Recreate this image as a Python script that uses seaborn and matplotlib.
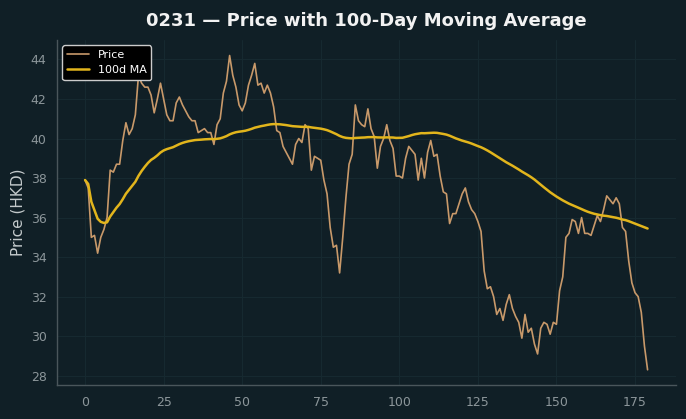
#!/usr/bin/env python3

import matplotlib
matplotlib.use("Agg")
import matplotlib.pyplot as plt
import numpy as np
import pandas as pd
import seaborn as sns

FIGSIZE = (6.86, 4.19)
BG = "#101f26"
PRICE_COLOR = "#c8996a"
MA_COLOR = "#e2b51c"

# daily closing prices
price = [
    37.9, 37.5, 35.0, 35.1, 34.2, 35.0, 35.4, 36.0, 38.4, 38.3,
    38.7, 38.7, 39.9, 40.8, 40.2, 40.5, 41.2, 43.2, 42.8, 42.6,
    42.6, 42.2, 41.3, 42.0, 42.8, 42.0, 41.2, 40.9, 40.9, 41.8,
    42.1, 41.7, 41.4, 41.1, 40.9, 40.9, 40.3, 40.4, 40.5, 40.3,
    40.3, 39.7, 40.7, 41.0, 42.3, 42.9, 44.2, 43.2, 42.6, 41.7,
    41.4, 41.8, 42.7, 43.2, 43.8, 42.7, 42.8, 42.3, 42.7, 42.3,
    41.6, 40.4, 40.3, 39.6, 39.3, 39.0, 38.7, 39.7, 40.0, 39.8,
    40.7, 40.5, 38.4, 39.1, 39.0, 38.9, 37.9, 37.2, 35.5, 34.5,
    34.6, 33.2, 35.0, 37.0, 38.7, 39.2, 41.7, 40.9, 40.7, 40.6,
    41.5, 40.5, 40.1, 38.5, 39.6, 40.0, 40.7, 39.9, 39.5, 38.1,
    38.1, 38.0, 39.0, 39.6, 39.4, 39.2, 37.9, 39.0, 38.0, 39.3,
    39.9, 39.1, 39.2, 38.1, 37.3, 37.2, 35.7, 36.2, 36.2, 36.7,
    37.2, 37.5, 36.8, 36.4, 36.2, 35.8, 35.3, 33.3, 32.4, 32.5,
    32.0, 31.1, 31.4, 30.8, 31.6, 32.1, 31.4, 31.0, 30.7, 29.9,
    31.1, 30.2, 30.4, 29.6, 29.1, 30.4, 30.7, 30.6, 30.1, 30.7,
    30.6, 32.3, 33.0, 35.0, 35.2, 35.9, 35.8, 35.2, 36.0, 35.2,
    35.2, 35.1, 35.6, 36.1, 35.8, 36.4, 37.1, 36.9, 36.7, 37.0,
    36.7, 35.5, 35.3, 33.8, 32.7, 32.2, 32.0, 31.2, 29.5, 28.3,
]
day = list(range(len(price)))
window = 100

df = pd.DataFrame({"day": day, "price": price})
df["ma"] = df["price"].rolling(window, min_periods=1).mean()

sns.set_theme(style="darkgrid")
plt.rcParams["font.family"] = ["DejaVu Sans"]

fig = plt.figure(figsize=FIGSIZE, facecolor=BG)
ax = plt.axes()
ax.set_facecolor(BG)

sns.lineplot(data=df, x="day", y="price", ax=ax, color=PRICE_COLOR, linewidth=1.2, label="Price")
sns.lineplot(data=df, x="day", y="ma", ax=ax, color=MA_COLOR, linewidth=1.8, label=f"{window}d MA")

ax.grid(True, color="#172a31", linewidth=0.7)
for side in ["top", "right"]:
    ax.spines[side].set_visible(False)
for side in ["left", "bottom"]:
    ax.spines[side].set_visible(True)
    ax.spines[side].set_color("#4a565b")
    ax.spines[side].set_linewidth(1.0)

ax.tick_params(colors="#8c969a", labelsize=9, length=4, width=0.8)
ax.tick_params(axis="both", which="major", color="#6f7a7e")
ax.set_xticks([0, 25, 50, 75, 100, 125, 150, 175])
ax.set_yticks([28, 30, 32, 34, 36, 38, 40, 42, 44])

ax.set(xlabel="")
ax.set_ylabel("Price (HKD)", color="#c4cacc", fontsize=11)
ax.set_title("0231 \u2014 Price with 100-Day Moving Average", color="#f2f2f2",
             fontsize=13, fontweight="bold", pad=10)

leg = ax.legend(loc="upper left", fontsize=8, facecolor="black", edgecolor="#cccccc",
                framealpha=1.0)
for t in leg.get_texts():
    t.set_color("white")

fig.subplots_adjust(left=0.083, bottom=0.08, right=0.985, top=0.905)
fig.savefig("out.png", dpi=100, facecolor=BG)
